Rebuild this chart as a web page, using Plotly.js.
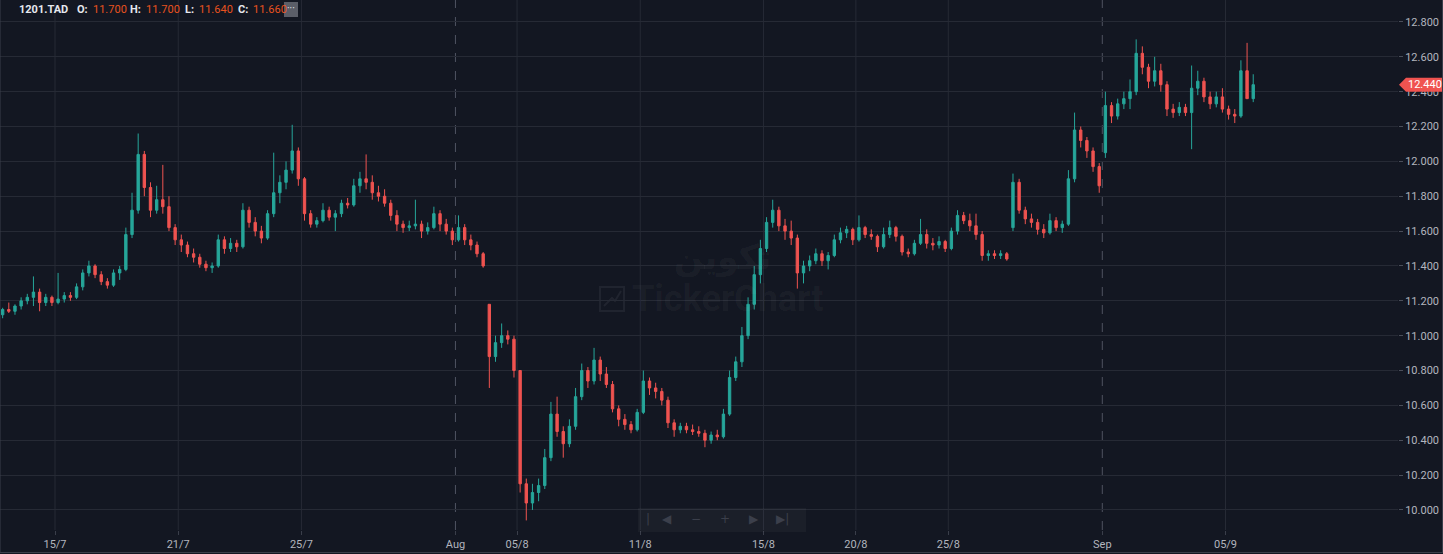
<!DOCTYPE html>
<html>
<head>
<meta charset="utf-8">
<script src="https://cdn.plot.ly/plotly-3.0.1.min.js"></script>
<style>
  html, body { margin: 0; padding: 0; background: #131722; }
  #chart { width: 1443px; height: 554px; }
</style>
</head>
<body>
<div id="chart"></div>
<script>
// ---- Data: 1201.TAD intraday candles (5 per trading day), 11 Jul – 5 Sep ----
const openP = [
  11.12, 11.15, 11.14, 11.17,
  11.20, 11.22, 11.25, 11.19, 11.22,
  11.19, 11.21, 11.23, 11.22, 11.28,
  11.36, 11.40, 11.35, 11.31, 11.29,
  11.36, 11.38, 11.58, 11.72, 12.04,
  11.85, 11.72, 11.78, 11.74, 11.62,
  11.55, 11.52, 11.47, 11.45, 11.41,
  11.39, 11.40, 11.55, 11.50, 11.53,
  11.51, 11.72, 11.65, 11.60, 11.56,
  11.70, 11.82, 11.88, 11.95, 12.06,
  11.90, 11.70, 11.64, 11.66, 11.72,
  11.68, 11.70, 11.76, 11.75, 11.86,
  11.90, 11.88, 11.82, 11.80, 11.76,
  11.69, 11.64, 11.62, 11.63, 11.64,
  11.60, 11.62, 11.70, 11.64, 11.60,
  11.55, 11.62, 11.55, 11.52, 11.47,
  11.18, 10.88, 10.96, 11.00, 10.98,
  10.80, 10.15, 10.04, 10.10, 10.14,
  10.30, 10.55, 10.45, 10.38, 10.48,
  10.65, 10.80, 10.74, 10.86, 10.78,
  10.72, 10.58, 10.52, 10.49, 10.46,
  10.56, 10.74, 10.70, 10.68, 10.63,
  10.50, 10.46, 10.48, 10.46, 10.45,
  10.44, 10.40, 10.43, 10.42, 10.55,
  10.76, 10.85, 11.00, 11.18, 11.35,
  11.50, 11.65, 11.72, 11.63, 11.60,
  11.56, 11.36, 11.40, 11.43, 11.47,
  11.43, 11.46, 11.55, 11.59, 11.61,
  11.55, 11.62, 11.58, 11.57, 11.51,
  11.58, 11.62, 11.57, 11.48, 11.47,
  11.53, 11.58, 11.53, 11.52, 11.54,
  11.50, 11.60, 11.69, 11.66, 11.63,
  11.58, 11.46, 11.47, 11.46, 11.47,
  11.62, 11.88, 11.72, 11.67, 11.65,
  11.61, 11.59, 11.66, 11.62, 11.64,
  11.90, 12.18, 12.12, 12.06, 11.97,
  12.05, 12.32, 12.26, 12.33, 12.36,
  12.40, 12.62, 12.54, 12.46, 12.52,
  12.44, 12.30, 12.28, 12.31, 12.28,
  12.42, 12.46, 12.37, 12.33, 12.37,
  12.30, 12.27, 12.26, 12.52, 12.36
];
const highP = [
  11.16, 11.19, 11.18, 11.22,
  11.24, 11.34, 11.27, 11.24, 11.23,
  11.36, 11.25, 11.25, 11.30, 11.38,
  11.43, 11.41, 11.37, 11.33, 11.38,
  11.40, 11.62, 11.82, 12.16, 12.06,
  11.88, 11.86, 11.98, 11.80, 11.64,
  11.58, 11.54, 11.50, 11.47, 11.43,
  11.42, 11.58, 11.57, 11.56, 11.55,
  11.76, 11.74, 11.68, 11.63, 11.72,
  12.05, 11.92, 12.00, 12.21, 12.08,
  11.91, 11.72, 11.68, 11.76, 11.74,
  11.72, 11.78, 11.79, 11.90, 11.94,
  12.04, 11.92, 11.86, 11.84, 11.78,
  11.72, 11.66, 11.66, 11.78, 11.66,
  11.65, 11.74, 11.72, 11.67, 11.62,
  11.69, 11.64, 11.58, 11.54, 11.48,
  11.18, 11.00, 11.07, 11.03, 11.00,
  10.80, 10.18, 10.15, 10.18, 10.35,
  10.62, 10.65, 10.48, 10.52, 10.70,
  10.84, 10.82, 10.93, 10.88, 10.82,
  10.74, 10.60, 10.55, 10.51, 10.58,
  10.80, 10.76, 10.73, 10.70, 10.65,
  10.52, 10.50, 10.50, 10.49, 10.48,
  10.46, 10.45, 10.46, 10.58, 10.80,
  10.88, 11.05, 11.22, 11.40, 11.55,
  11.68, 11.78, 11.74, 11.67, 11.66,
  11.58, 11.43, 11.46, 11.50, 11.49,
  11.48, 11.58, 11.62, 11.63, 11.62,
  11.69, 11.63, 11.61, 11.58, 11.62,
  11.66, 11.63, 11.58, 11.50, 11.55,
  11.67, 11.61, 11.56, 11.57, 11.55,
  11.62, 11.72, 11.71, 11.70, 11.70,
  11.60, 11.49, 11.49, 11.49, 11.48,
  11.93, 11.90, 11.74, 11.70, 11.67,
  11.64, 11.70, 11.68, 11.66, 11.95,
  12.28, 12.20, 12.14, 12.08, 11.99,
  12.40, 12.34, 12.36, 12.40, 12.47,
  12.70, 12.66, 12.56, 12.60, 12.56,
  12.46, 12.33, 12.34, 12.33, 12.55,
  12.52, 12.48, 12.40, 12.40, 12.42,
  12.32, 12.30, 12.58, 12.68, 12.50
];
const lowP = [
  11.10, 11.13, 11.12, 11.15,
  11.18, 11.17, 11.14, 11.17, 11.17,
  11.18, 11.19, 11.20, 11.21, 11.26,
  11.34, 11.33, 11.29, 11.27, 11.28,
  11.32, 11.37, 11.56, 11.70, 11.80,
  11.68, 11.70, 11.70, 11.60, 11.52,
  11.48, 11.45, 11.42, 11.39, 11.37,
  11.36, 11.39, 11.47, 11.48, 11.48,
  11.50, 11.62, 11.57, 11.53, 11.55,
  11.68, 11.76, 11.84, 11.93, 11.86,
  11.66, 11.62, 11.62, 11.65, 11.66,
  11.60, 11.68, 11.73, 11.74, 11.82,
  11.84, 11.78, 11.77, 11.74, 11.66,
  11.60, 11.59, 11.60, 11.61, 11.56,
  11.58, 11.61, 11.60, 11.58, 11.52,
  11.54, 11.52, 11.49, 11.45, 11.39,
  10.70, 10.85, 10.93, 10.95, 10.76,
  10.10, 9.94, 10.00, 10.05, 10.12,
  10.28, 10.42, 10.30, 10.36, 10.46,
  10.63, 10.70, 10.72, 10.74, 10.70,
  10.56, 10.48, 10.46, 10.44, 10.45,
  10.55, 10.66, 10.64, 10.60, 10.47,
  10.42, 10.44, 10.44, 10.43, 10.42,
  10.36, 10.38, 10.40, 10.41, 10.54,
  10.74, 10.82, 10.98, 11.15, 11.30,
  11.48, 11.62, 11.60, 11.55, 11.52,
  11.27, 11.30, 11.37, 11.41, 11.40,
  11.38, 11.45, 11.53, 11.56, 11.52,
  11.54, 11.56, 11.55, 11.48, 11.50,
  11.56, 11.54, 11.46, 11.45, 11.46,
  11.52, 11.50, 11.49, 11.50, 11.48,
  11.49, 11.58, 11.64, 11.60, 11.55,
  11.43, 11.43, 11.44, 11.44, 11.43,
  11.60, 11.70, 11.64, 11.62, 11.58,
  11.56, 11.58, 11.60, 11.59, 11.63,
  11.88, 12.08, 12.02, 11.94, 11.82,
  12.02, 12.22, 12.24, 12.30, 12.30,
  12.38, 12.50, 12.42, 12.43, 12.40,
  12.26, 12.25, 12.26, 12.26, 12.07,
  12.38, 12.34, 12.30, 12.31, 12.28,
  12.24, 12.22, 12.25, 12.36, 12.34
];
const closeP = [
  11.15, 11.14, 11.17, 11.20,
  11.22, 11.25, 11.19, 11.22, 11.19,
  11.21, 11.23, 11.22, 11.28, 11.36,
  11.40, 11.35, 11.31, 11.29, 11.36,
  11.38, 11.58, 11.72, 12.04, 11.85,
  11.72, 11.78, 11.74, 11.62, 11.55,
  11.52, 11.47, 11.45, 11.41, 11.39,
  11.40, 11.55, 11.50, 11.53, 11.51,
  11.72, 11.65, 11.60, 11.56, 11.70,
  11.82, 11.88, 11.95, 12.06, 11.90,
  11.70, 11.64, 11.66, 11.72, 11.68,
  11.70, 11.76, 11.75, 11.86, 11.90,
  11.88, 11.82, 11.80, 11.76, 11.69,
  11.64, 11.62, 11.63, 11.64, 11.60,
  11.62, 11.70, 11.64, 11.60, 11.55,
  11.62, 11.55, 11.52, 11.47, 11.40,
  10.88, 10.96, 11.00, 10.98, 10.80,
  10.15, 10.04, 10.10, 10.14, 10.30,
  10.55, 10.45, 10.38, 10.48, 10.65,
  10.80, 10.74, 10.86, 10.78, 10.72,
  10.58, 10.52, 10.49, 10.46, 10.56,
  10.74, 10.70, 10.68, 10.63, 10.50,
  10.46, 10.48, 10.46, 10.45, 10.44,
  10.40, 10.43, 10.42, 10.55, 10.76,
  10.85, 11.00, 11.18, 11.35, 11.50,
  11.65, 11.72, 11.63, 11.60, 11.56,
  11.36, 11.40, 11.43, 11.47, 11.43,
  11.46, 11.55, 11.59, 11.61, 11.55,
  11.62, 11.58, 11.57, 11.51, 11.58,
  11.62, 11.57, 11.48, 11.47, 11.53,
  11.58, 11.53, 11.52, 11.54, 11.50,
  11.60, 11.69, 11.66, 11.63, 11.58,
  11.46, 11.47, 11.46, 11.47, 11.44,
  11.88, 11.72, 11.67, 11.65, 11.61,
  11.59, 11.66, 11.62, 11.64, 11.90,
  12.18, 12.12, 12.06, 11.97, 11.86,
  12.32, 12.26, 12.33, 12.36, 12.40,
  12.62, 12.54, 12.46, 12.52, 12.44,
  12.30, 12.28, 12.31, 12.28, 12.42,
  12.46, 12.37, 12.33, 12.37, 12.30,
  12.27, 12.26, 12.52, 12.36, 12.44
];
// x-axis labels and the index of the first candle of that session
const tickLabels = ['15/7', '21/7', '25/7', 'Aug', '05/8', '11/8', '15/8', '20/8', '25/8', 'Sep', '05/9'];
const tickStartIdx = [9, 29, 49, 74, 84, 104, 124, 139, 154, 179, 199];
const monthStart = [false, false, false, true, false, false, false, false, false, true, false];
const yTicks = [10.0, 10.2, 10.4, 10.6, 10.8, 11.0, 11.2, 11.4, 11.6, 11.8, 12.0, 12.2, 12.4, 12.6, 12.8];
const lastPrice = 12.44;
const headerParts = [
  {t: '1201.TAD', c: '#e6e8ee'}, {t: 'O:', c: '#e6e8ee'}, {t: '11.700', c: '#e8521f'},
  {t: 'H:', c: '#e6e8ee'}, {t: '11.700', c: '#e8521f'}, {t: 'L:', c: '#e6e8ee'},
  {t: '11.640', c: '#e8521f'}, {t: 'C:', c: '#e6e8ee'}, {t: '11.660', c: '#e8521f'}
];
const headerX = [17, 75, 91, 128, 144, 183, 197, 236, 251];

// ---- geometry ----
const W = 1443, H = 554;
const M = {l: 0, r: 45, t: 0, b: 24};
const PW = W - M.l - M.r, PH = H - M.t - M.b;
const px2paperX = p => p / PW;
const py2paperY = p => (PH - p) / PH;

const xs = openP.map((_, i) => i);
const tickvals = tickStartIdx.map(i => i - 0.5);

const BG = '#131722';
const GRID = '#262a35';
const UP = '#26a69a';
const DOWN = '#ef5350';
const FONT = 'Roboto, "Liberation Sans", Arial, sans-serif';

const trace = {
  type: 'candlestick',
  x: xs, open: openP, high: highP, low: lowP, close: closeP,
  increasing: {line: {color: UP, width: 1}, fillcolor: UP},
  decreasing: {line: {color: DOWN, width: 1}, fillcolor: DOWN},
  whiskerwidth: 0,
  hoverinfo: 'skip',
  showlegend: false
};

const shapes = [];
// vertical grid lines
tickvals.forEach((v, k) => {
  shapes.push({
    type: 'line', xref: 'x', yref: 'paper', x0: v, x1: v, y0: 0, y1: 1,
    line: {color: monthStart[k] ? '#4f5361' : GRID, width: 1, dash: monthStart[k] ? 'dash' : 'solid'},
    layer: 'below'
  });
});
// navigation bar background
shapes.push({type: 'rect', xref: 'paper', yref: 'paper',
  x0: px2paperX(638), x1: px2paperX(806), y0: py2paperY(532), y1: py2paperY(508),
  fillcolor: 'rgba(255,255,255,0.035)', line: {width: 0}, layer: 'above'});
// watermark logo box
shapes.push({type: 'rect', xref: 'paper', yref: 'paper',
  x0: px2paperX(600), x1: px2paperX(624), y0: py2paperY(311), y1: py2paperY(287),
  fillcolor: 'rgba(0,0,0,0)', line: {color: 'rgba(255,255,255,0.06)', width: 2}, layer: 'below'});
shapes.push({type: 'path', xref: 'paper', yref: 'paper',
  path: 'M ' + px2paperX(604) + ' ' + py2paperY(306) + ' L ' + px2paperX(612) + ' ' + py2paperY(298) +
        ' L ' + px2paperX(615) + ' ' + py2paperY(301) + ' L ' + px2paperX(621) + ' ' + py2paperY(291),
  line: {color: 'rgba(255,255,255,0.06)', width: 2}, layer: 'below'});
// header "more" box
shapes.push({type: 'rect', xref: 'paper', yref: 'paper',
  x0: px2paperX(284), x1: px2paperX(298), y0: py2paperY(17), y1: py2paperY(2),
  fillcolor: '#5b5e68', line: {width: 0}, layer: 'above'});
// last price tag
shapes.push({type: 'path', xref: 'paper', xsizemode: 'pixel', xanchor: 1,
  yref: 'y', ysizemode: 'pixel', yanchor: lastPrice,
  path: 'M 1 0 L 8 7 L 45 7 L 45 -7 L 8 -7 Z',
  fillcolor: '#f05350', line: {width: 0}, layer: 'above'});
// frame
shapes.push({type: 'line', xref: 'paper', yref: 'paper', x0: 0, x1: 0, y0: py2paperY(553), y1: 1,
  line: {color: '#3a3e4a', width: 1}, layer: 'above'});
shapes.push({type: 'line', xref: 'paper', yref: 'paper', x0: 0, x1: px2paperX(1443), y0: py2paperY(552.5), y1: py2paperY(552.5),
  line: {color: '#3a3e4a', width: 1}, layer: 'above'});
shapes.push({type: 'line', xref: 'paper', yref: 'paper', x0: px2paperX(1442.5), x1: px2paperX(1442.5), y0: py2paperY(553), y1: 1,
  line: {color: '#3a3e4a', width: 1}, layer: 'above'});

const annotations = [];
headerParts.forEach((p, k) => {
  annotations.push({xref: 'paper', yref: 'paper', x: px2paperX(headerX[k]), y: py2paperY(10),
    xanchor: 'left', yanchor: 'middle', showarrow: false,
    text: p.c === '#e6e8ee' ? '<b>' + p.t + '</b>' : p.t,
    font: {family: FONT, size: 11, color: p.c}});
});
annotations.push({xref: 'paper', yref: 'paper', x: px2paperX(291), y: py2paperY(9),
  xanchor: 'center', yanchor: 'middle', showarrow: false, text: '···',
  font: {family: FONT, size: 10, color: '#e6e8ee'}});
// last price text
annotations.push({xref: 'paper', yref: 'y', x: 1, y: lastPrice, xanchor: 'left', yanchor: 'middle',
  xshift: 8, showarrow: false, text: lastPrice.toFixed(3),
  font: {family: FONT, size: 11, color: '#ffffff'}});
// watermark
annotations.push({xref: 'paper', yref: 'paper', x: px2paperX(722), y: py2paperY(256),
  xanchor: 'center', yanchor: 'middle', showarrow: false, text: '<b>تكوين</b>',
  font: {family: '"Noto Sans", "DejaVu Sans", sans-serif', size: 34, color: 'rgba(255,255,255,0.055)'}});
annotations.push({xref: 'paper', yref: 'paper', x: px2paperX(630), y: py2paperY(299),
  xanchor: 'left', yanchor: 'middle', showarrow: false, text: '<b>TickerChart</b>',
  font: {family: FONT, size: 36, color: 'rgba(255,255,255,0.045)'}});
// navigation icons
const navIcons = ['|', '◀', '−', '+', '▶', '▶|'];
const navX = [648, 667, 696, 725, 754, 782];
navIcons.forEach((t, k) => {
  annotations.push({xref: 'paper', yref: 'paper', x: px2paperX(navX[k]), y: py2paperY(519),
    xanchor: 'center', yanchor: 'middle', showarrow: false, text: t,
    font: {family: '"DejaVu Sans", sans-serif', size: 12, color: '#3b3f4b'}});
});

const layout = {
  width: W, height: H,
  margin: M,
  paper_bgcolor: BG, plot_bgcolor: BG,
  font: {family: FONT, size: 11, color: '#b2b5be'},
  showlegend: false,
  dragmode: false,
  boxgap: 0.45,
  xaxis: {
    type: 'linear', range: [-0.43, 226.5],
    tickmode: 'array', tickvals: tickvals, ticktext: tickLabels,
    showgrid: false, zeroline: false, showline: false,
    ticks: 'outside', ticklen: 4, tickcolor: '#3a3e4a', tickwidth: 1,
    tickfont: {family: FONT, size: 11, color: '#b2b5be'},
    rangeslider: {visible: false}, fixedrange: true
  },
  yaxis: {
    side: 'right', range: [9.885, 12.926],
    tickmode: 'array', tickvals: yTicks, ticktext: yTicks.map(v => v.toFixed(3)),
    showgrid: true, gridcolor: GRID, gridwidth: 1,
    zeroline: false, showline: false,
    ticks: 'outside', ticklen: 4, tickcolor: '#4a4e5a', tickwidth: 1,
    tickfont: {family: FONT, size: 11, color: '#b2b5be'},
    fixedrange: true
  },
  shapes: shapes,
  annotations: annotations
};

Plotly.newPlot('chart', [trace], layout, {staticPlot: true, displayModeBar: false});
</script>
</body>
</html>
